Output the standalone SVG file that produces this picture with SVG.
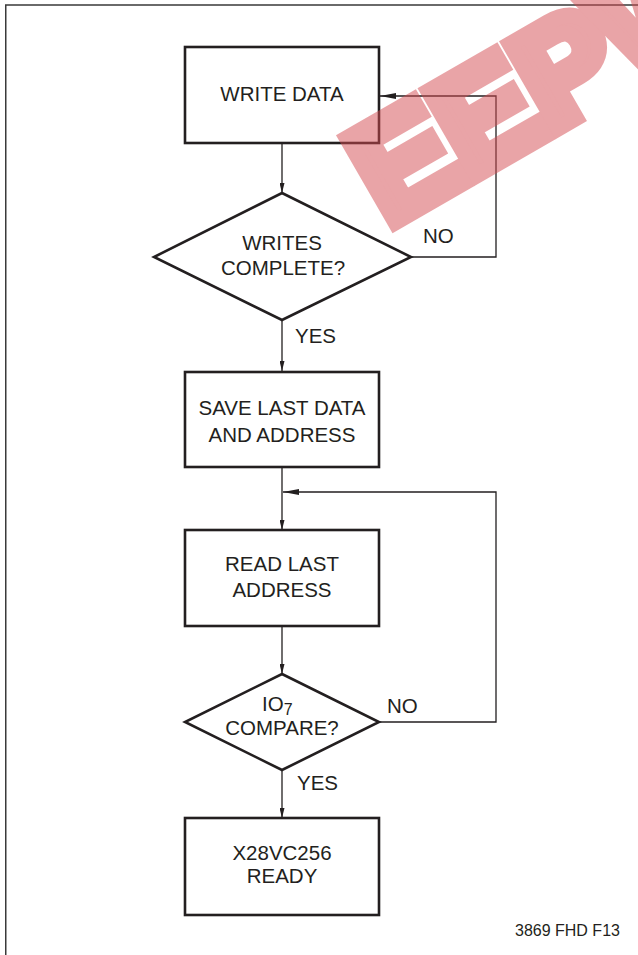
<svg xmlns="http://www.w3.org/2000/svg" width="638" height="955" viewBox="0 0 638 955">
<style>
  .node { fill: #ffffff; stroke: #231f20; stroke-width: 2.6; }
  .lbl { font-family: "Liberation Sans", Arial, sans-serif; font-size: 20.5px; fill: #231f20; }
  .ctr { text-anchor: middle; }
  .conn { fill: none; stroke: #231f20; stroke-width: 1.3; }
  .frame { fill: none; stroke: #3a3a3a; stroke-width: 1.5; }
</style>
<defs>
  <marker id="ahDown" viewBox="0 0 10 5" refX="10" refY="2.5" markerWidth="10" markerHeight="5" markerUnits="userSpaceOnUse" orient="auto">
    <path d="M0,0 L10,2.5 L0,5 Z" fill="#231f20"/>
  </marker>
  <marker id="ahLoop" viewBox="0 0 16 6" refX="16" refY="3" markerWidth="16" markerHeight="6" markerUnits="userSpaceOnUse" orient="auto">
    <path d="M0,0 L16,3 L0,6 Z" fill="#231f20"/>
  </marker>
</defs>
<rect x="0" y="0" width="638" height="955" fill="#ffffff"/>
<path class="frame" d="M5.75,955 L5.75,5 L638,5"/>

<g id="connectors">
  <line class="conn" x1="282" y1="143" x2="282" y2="193" marker-end="url(#ahDown)"/>
  <polyline class="conn" points="411,257 496,257 496,96 380,96" marker-end="url(#ahLoop)"/>
  <line class="conn" x1="282" y1="320" x2="282" y2="371" marker-end="url(#ahDown)"/>
  <line class="conn" x1="282" y1="467" x2="282" y2="530" marker-end="url(#ahDown)"/>
  <polyline class="conn" points="379,722 496,722 496,492 283,492" marker-end="url(#ahLoop)"/>
  <line class="conn" x1="282" y1="626" x2="282" y2="674" marker-end="url(#ahDown)"/>
  <line class="conn" x1="282" y1="770" x2="282" y2="818" marker-end="url(#ahDown)"/>
  <text class="lbl" x="423" y="243">NO</text>
  <text class="lbl" x="295" y="343">YES</text>
  <text class="lbl" x="387" y="713">NO</text>
  <text class="lbl" x="297" y="790">YES</text>
</g>

<g id="write-data">
  <rect class="node" x="185" y="47" width="194" height="96"/>
  <text class="lbl ctr" x="282" y="101">WRITE DATA</text>
</g>
<g id="writes-complete">
  <polygon class="node" points="282,193 411,257 282,320 154,257"/>
  <text class="lbl ctr" x="282" y="250">WRITES</text>
  <text class="lbl ctr" x="283" y="275">COMPLETE?</text>
</g>
<g id="save-last">
  <rect class="node" x="185" y="372" width="194" height="95"/>
  <text class="lbl ctr" x="282" y="415">SAVE LAST DATA</text>
  <text class="lbl ctr" x="282" y="442">AND ADDRESS</text>
</g>
<g id="read-last">
  <rect class="node" x="185" y="530" width="194" height="96"/>
  <text class="lbl ctr" x="282" y="571">READ LAST</text>
  <text class="lbl ctr" x="282" y="597">ADDRESS</text>
</g>
<g id="io7-compare">
  <polygon class="node" points="282,674 379,722 282,770 185,722"/>
  <text class="lbl" x="262" y="711">IO<tspan font-size="16" dy="4">7</tspan></text>
  <text class="lbl ctr" x="282" y="735">COMPARE?</text>
</g>
<g id="ready">
  <rect class="node" x="185" y="818" width="194" height="97"/>
  <text class="lbl ctr" x="282" y="860">X28VC256</text>
  <text class="lbl ctr" x="282" y="883">READY</text>
</g>

<text x="515" y="936" style="font-family: 'Liberation Sans', Arial, sans-serif; font-size: 16px; fill: #231f20;">3869 FHD F13</text>

<g id="watermark" opacity="0.5" transform="translate(393,233) rotate(-30)">
  <text x="-2" y="-8" style="font-family: 'Liberation Sans', Arial, sans-serif; font-weight: bold; font-size: 141px; fill: #d54b51; stroke: #d54b51; stroke-width: 16; stroke-linejoin: miter;">EEPW</text>
</g>
</svg>
